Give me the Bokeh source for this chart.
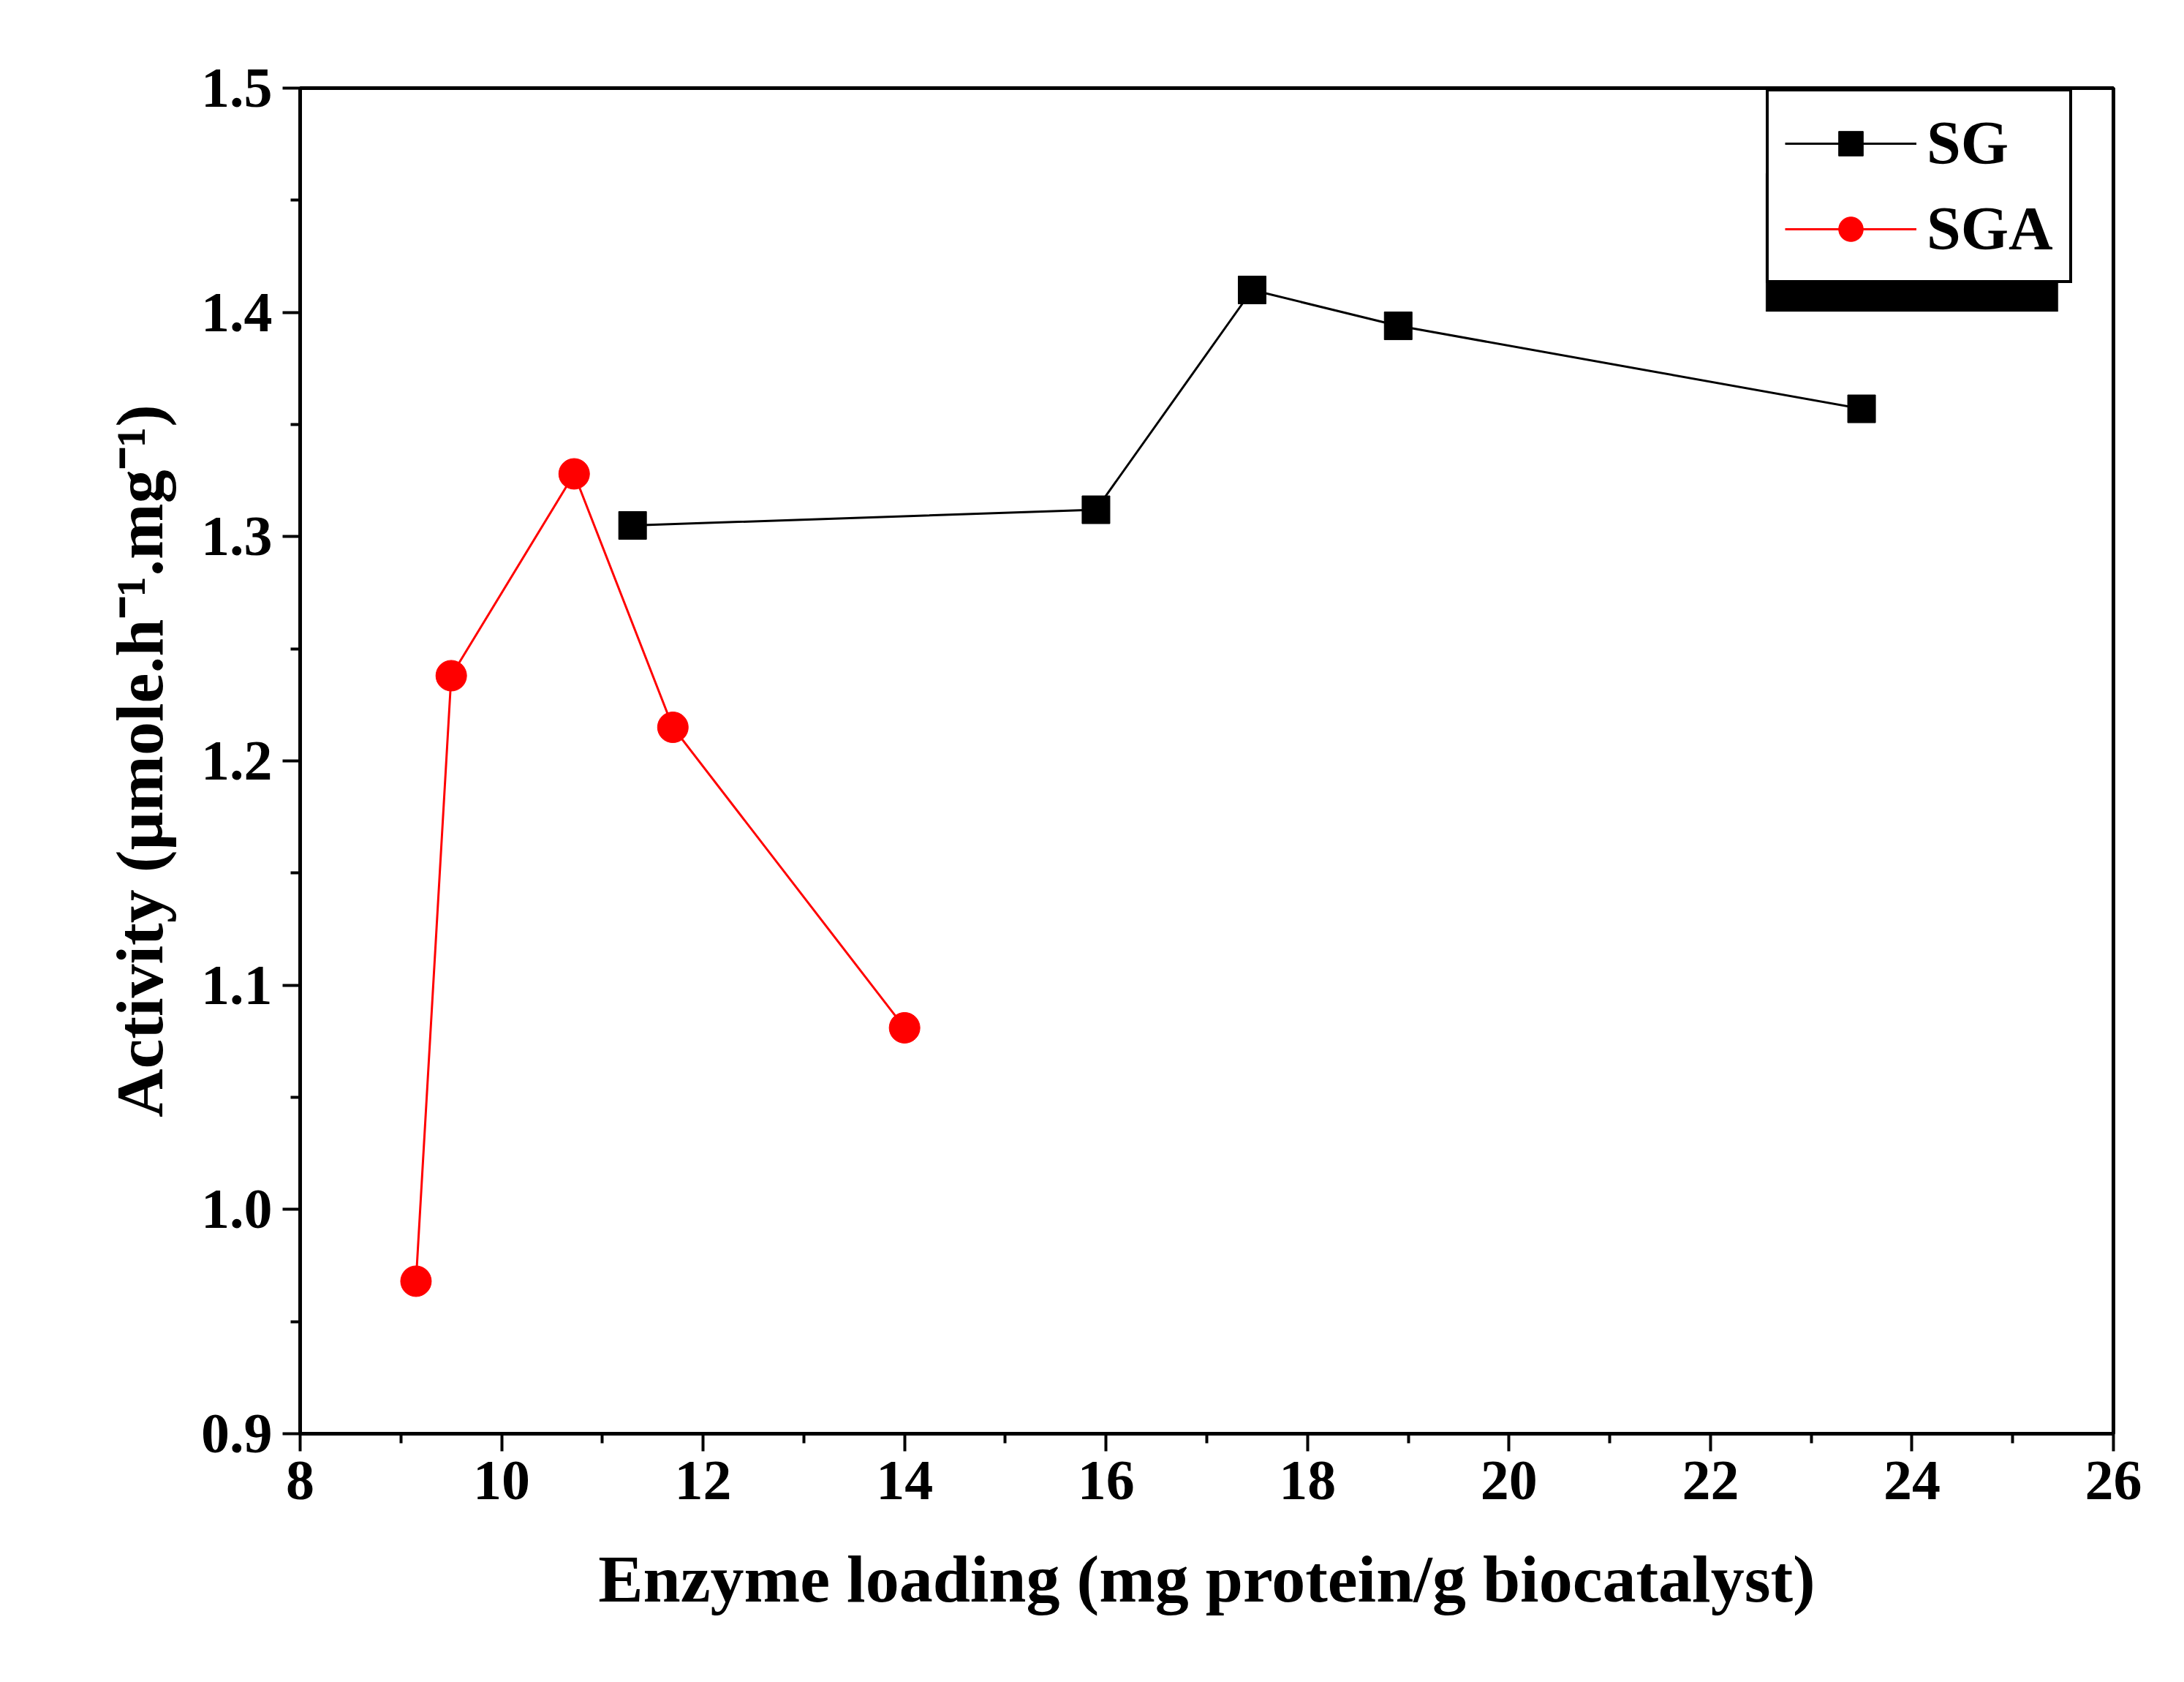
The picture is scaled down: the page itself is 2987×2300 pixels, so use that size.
from bokeh.plotting import figure
from bokeh.models import Legend, LegendItem, Range1d, FixedTicker, BoxAnnotation, CustomJSTickFormatter
from bokeh.embed import file_html
from bokeh.resources import INLINE

sg_x = [11.3, 15.9, 17.45, 18.9, 23.5]
sg_y = [1.305, 1.312, 1.41, 1.394, 1.357]
sga_x = [9.15, 9.5, 10.72, 11.7, 14.0]
sga_y = [0.968, 1.238, 1.328, 1.215, 1.081]
x_ticks = [8, 10, 12, 14, 16, 18, 20, 22, 24, 26]
y_ticks = [0.9, 1.0, 1.1, 1.2, 1.3, 1.4, 1.5]

p = figure(width=2960, height=2270, output_backend="svg", toolbar_location=None,
           x_range=Range1d(8, 26), y_range=Range1d(0.9, 1.5),
           min_border_left=410, min_border_bottom=310, min_border_top=120, min_border_right=70)
p.background_fill_color = "white"
p.border_fill_color = "white"
p.grid.visible = False
p.outline_line_color = "black"
p.outline_line_width = 5

FONT = "Liberation Serif"
for ax in (p.xaxis[0], p.yaxis[0]):
    ax.axis_line_width = 5
    ax.major_tick_line_width = 4
    ax.minor_tick_line_width = 4
    ax.major_tick_out = 24
    ax.major_tick_in = 0
    ax.minor_tick_out = 13
    ax.minor_tick_in = 0
    ax.major_label_text_font = FONT
    ax.major_label_text_font_style = "bold"
    ax.major_label_text_font_size = "78px"
    ax.major_label_text_color = "black"
    ax.axis_label_text_font = FONT
    ax.axis_label_text_font_style = "bold"
    ax.axis_label_text_font_size = "92px"
    ax.axis_label_text_color = "black"
p.xaxis.ticker = FixedTicker(ticks=x_ticks, minor_ticks=[x + 1 for x in x_ticks[:-1]])
p.yaxis.ticker = FixedTicker(ticks=y_ticks, minor_ticks=[round(y + 0.05, 2) for y in y_ticks[:-1]])
p.yaxis.formatter = CustomJSTickFormatter(code="return tick.toFixed(1)")
p.xaxis.axis_label = "Enzyme loading (mg protein/g biocatalyst)"
p.yaxis.axis_label = "Activity (\u00b5mole.h\u207b\u00b9.mg\u207b\u00b9)"
p.xaxis.major_label_standoff = 14
p.yaxis.major_label_standoff = 14
p.xaxis.axis_label_standoff = 55
p.yaxis.axis_label_standoff = 30

# legend shadow
p.add_layout(BoxAnnotation(left=22.55, right=25.45, bottom=1.4004, top=1.462,
                           fill_color="black", fill_alpha=1, line_color="black"))

l1 = p.line(sg_x, sg_y, line_color="black", line_width=3)
s1 = p.scatter(sg_x, sg_y, marker="square", size=38, fill_color="black", line_color="black")
l2 = p.line(sga_x, sga_y, line_color="red", line_width=3)
s2 = p.scatter(sga_x, sga_y, marker="circle", size=42, fill_color="red", line_color="red")

leg = Legend(items=[LegendItem(label="SG", renderers=[l1, s1]),
                    LegendItem(label="SGA", renderers=[l2, s2])],
             location=(2005, 1573))
leg.label_text_font = FONT
leg.label_text_font_style = "bold"
leg.label_text_font_size = "84px"
leg.label_text_color = "black"
leg.glyph_width = 180
leg.glyph_height = 84
leg.label_standoff = 14
leg.spacing = 20
leg.padding = 22
leg.border_line_color = "black"
leg.border_line_alpha = 1
leg.border_line_width = 4
leg.background_fill_color = "white"
leg.background_fill_alpha = 1
p.add_layout(leg)

open("out.html", "w").write(file_html(p, INLINE))
